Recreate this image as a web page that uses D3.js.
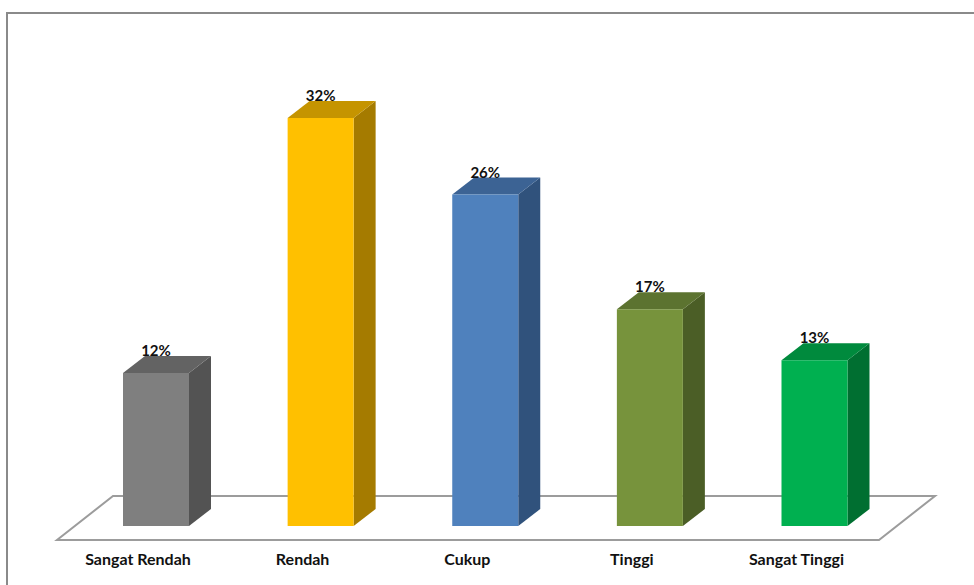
<!DOCTYPE html>
<html>
<head>
<meta charset="utf-8">
<script src="https://cdn.jsdelivr.net/npm/d3@7"></script>
<style>
  body { margin: 0; background: #fff; }
  svg { display: block; }
</style>
</head>
<body>
<div class="svg-container"></div>
<script>
// data
const categories = ['Sangat Rendah', 'Rendah', 'Cukup', 'Tinggi', 'Sangat Tinggi'];
const values = [12, 32, 26, 17, 13];
const valueLabels = ['12%', '32%', '26%', '17%', '13%'];
const frontColors = ['#7f7f7f', '#ffc000', '#4f81bd', '#77933c', '#00b050'];
const topColors = ['#636363', '#c59400', '#3c6394', '#5c7330', '#008a3d'];
const sideColors = ['#535353', '#a57b00', '#30527c', '#4b5e26', '#006f31'];

const width = 974, height = 585;
const depth = {dx: 22, dy: -17};
const barWidth = 66;

const svg = d3.select('.svg-container')
  .append('svg')
  .attr('width', width)
  .attr('height', height);

// chart border
svg.append('rect')
  .attr('x', 7).attr('y', 13)
  .attr('width', 1000).attr('height', 600)
  .attr('fill', 'none')
  .attr('stroke', '#8a8a8a')
  .attr('stroke-width', 2);

const x = d3.scalePoint()
  .domain(categories)
  .range([156, 814.5]);

const y = d3.scaleLinear()
  .domain([0, 40])
  .range([526, 16]);

// floor
const floor = [[113, 496], [935, 496], [879, 540], [57, 540]];
svg.append('path')
  .attr('d', d3.line()(floor) + 'Z')
  .attr('fill', 'none')
  .attr('stroke', '#9c9c9c')
  .attr('stroke-width', 2);

const bars = svg.selectAll('.bar')
  .data(categories)
  .enter().append('g')
  .attr('class', 'bar');

// side face
bars.append('path')
  .attr('fill', (d, i) => sideColors[i])
  .attr('d', (d, i) => {
    const x1 = x(d) + barWidth / 2, y0 = y(0), y1 = y(values[i]);
    return d3.line()([[x1, y1], [x1 + depth.dx, y1 + depth.dy], [x1 + depth.dx, y0 + depth.dy], [x1, y0]]) + 'Z';
  });

// top face
bars.append('path')
  .attr('fill', (d, i) => topColors[i])
  .attr('d', (d, i) => {
    const x0 = x(d) - barWidth / 2, x1 = x(d) + barWidth / 2, y1 = y(values[i]);
    return d3.line()([[x0, y1], [x0 + depth.dx, y1 + depth.dy], [x1 + depth.dx, y1 + depth.dy], [x1, y1]]) + 'Z';
  });

// front face
bars.append('rect')
  .attr('x', d => x(d) - barWidth / 2)
  .attr('y', (d, i) => y(values[i]))
  .attr('width', barWidth)
  .attr('height', (d, i) => y(0) - y(values[i]))
  .attr('fill', (d, i) => frontColors[i]);

// value labels
bars.append('text')
  .attr('x', d => x(d))
  .attr('y', (d, i) => y(values[i]) + depth.dy)
  .attr('text-anchor', 'middle')
  .style('font', 'bold 15px Lato, "Liberation Sans", sans-serif')
  .attr('fill', '#111')
  .text((d, i) => valueLabels[i]);

// category labels
svg.selectAll('.cat')
  .data(categories)
  .enter().append('text')
  .attr('class', 'cat')
  .attr('x', d => x(d) - 18)
  .attr('y', 565)
  .attr('text-anchor', 'middle')
  .style('font', 'bold 16px Lato, "Liberation Sans", sans-serif')
  .attr('fill', '#111')
  .text(d => d);
</script>
</body>
</html>
